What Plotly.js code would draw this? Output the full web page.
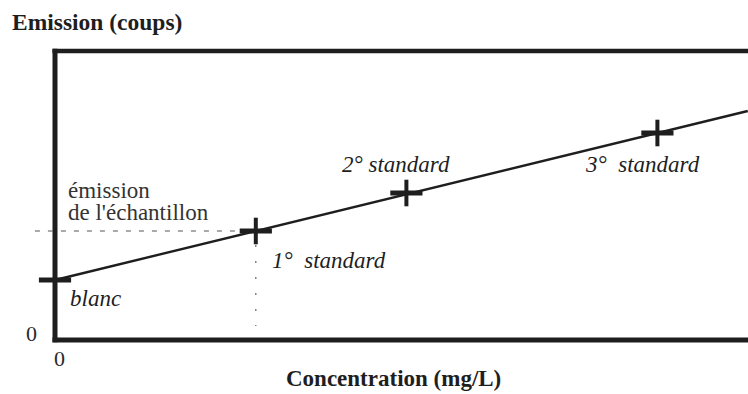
<!DOCTYPE html>
<html>
<head>
<meta charset="utf-8">
<script src="https://cdn.plot.ly/plotly-3.0.1.min.js"></script>
<style>html,body{margin:0;padding:0;background:#fff;}#chart{width:748px;height:394px;}</style>
</head>
<body>
<div id="chart"></div>
<script>
// Data (concentration in mg/L, emission in arbitrary counts)
var pointNames = ["blanc", "1°\u00a0\u00a0standard", "2° standard", "3°\u00a0\u00a0standard"];
var concentrations = [0, 2, 3.5, 6];
var emissions = [60, 109, 147, 207];
var standardConc = [2, 3.5, 6];
var standardEmis = [109, 147, 207];
var fitLineX = [0, 6.9];
var fitLineY = [60, 229];
var sampleEmission = 109;
var sampleConc = 2;
var xTitle = "Concentration (mg/L)";
var yTitle = "Emission (coups)";
var sampleLabel = ["émission", "de l'échantillon"];

// layout geometry
var W = 748, H = 394;
var mL = 30, mR = 0, mT = 51, mB = 54;
var plotW = W - mL - mR, plotH = H - mT - mB;
function px(xp) { return (xp - mL) / plotW; }
function py(yp) { return (H - mB - yp) / plotH; }

var serif = "Liberation Serif, Times New Roman, serif";
var ink = "#1e1e1e";
var FS = 23;

var traces = [
  { x: fitLineX, y: fitLineY, mode: "lines", line: { color: ink, width: 2.4 }, hoverinfo: "skip", showlegend: false },
  { x: concentrations, y: emissions, mode: "markers", cliponaxis: false, hoverinfo: "skip", showlegend: false,
    marker: { symbol: "line-ew", size: 23, color: ink, line: { color: ink, width: 5 } } },
  { x: standardConc, y: standardEmis, mode: "markers", cliponaxis: false, hoverinfo: "skip", showlegend: false,
    marker: { symbol: "line-ns", size: 19, color: ink, line: { color: ink, width: 4 } } }
];

function ann(text, xp, yp, opts) {
  var a = { text: text, xref: "paper", yref: "paper", x: px(xp), y: py(yp), showarrow: false,
    xanchor: "left", yanchor: "middle", font: { family: serif, size: FS, color: ink } };
  if (opts) for (var k in opts) a[k] = opts[k];
  return a;
}

var annotations = [
  ann("<b>" + yTitle + "</b>", 10, 22, { font: { family: serif, size: 23.5, color: ink } }),
  ann("<b>" + xTitle + "</b>", 393, 378, { xanchor: "center", font: { family: serif, size: 23, color: ink } }),
  ann("0", 31.5, 333, { xanchor: "center", font: { family: serif, size: 22, color: "#2a2a2a" } }),
  ann("0", 59, 358, { xanchor: "center", font: { family: serif, size: 22, color: "#2a2a2a" } }),
  ann("<i>" + pointNames[0] + "</i>", 68, 298),
  ann("<i>" + pointNames[1] + "</i>", 270, 260),
  ann("<i>" + pointNames[2] + "</i>", 340, 164),
  ann("<i>" + pointNames[3] + "</i>", 583, 164),
  ann(sampleLabel[0], 66, 190, { font: { family: serif, size: FS, color: "#333" } }),
  ann(sampleLabel[1], 66, 213, { font: { family: serif, size: FS, color: "#333" } })
];

var shapes = [
  // frame: left, top, bottom
  { type: "line", xref: "x", yref: "paper", x0: 0, x1: 0, y0: -0.008, y1: 1.008, line: { color: ink, width: 5 } },
  { type: "line", xref: "x", yref: "paper", x0: -0.025, x1: 8, y0: 1, y1: 1, line: { color: ink, width: 4.5 } },
  { type: "line", xref: "x", yref: "paper", x0: -0.025, x1: 8, y0: 0, y1: 0, line: { color: ink, width: 5 } },
  // sample emission guide lines
  { type: "line", xref: "x", yref: "y", x0: -0.2, x1: sampleConc - 0.15, y0: sampleEmission, y1: sampleEmission,
    line: { color: "#555", width: 1.2, dash: "5px,8px" } },
  { type: "line", xref: "x", yref: "y", x0: sampleConc, x1: sampleConc, y0: sampleEmission - 14, y1: 14,
    line: { color: "#666", width: 1.2, dash: "2px,14px" } }
];

var layout = {
  width: W, height: H,
  margin: { l: mL, r: mR, t: mT, b: mB, pad: 0 },
  paper_bgcolor: "#fff", plot_bgcolor: "#fff",
  showlegend: false,
  xaxis: { range: [(mL - 55) / 100.4, (W - 55) / 100.4], showgrid: false, zeroline: false, showticklabels: false, showline: false, ticks: "", fixedrange: true },
  yaxis: { range: [0, plotH], showgrid: false, zeroline: false, showticklabels: false, showline: false, ticks: "", fixedrange: true },
  shapes: shapes,
  annotations: annotations
};

Plotly.newPlot("chart", traces, layout, { displayModeBar: false, staticPlot: true });
</script>
</body>
</html>
